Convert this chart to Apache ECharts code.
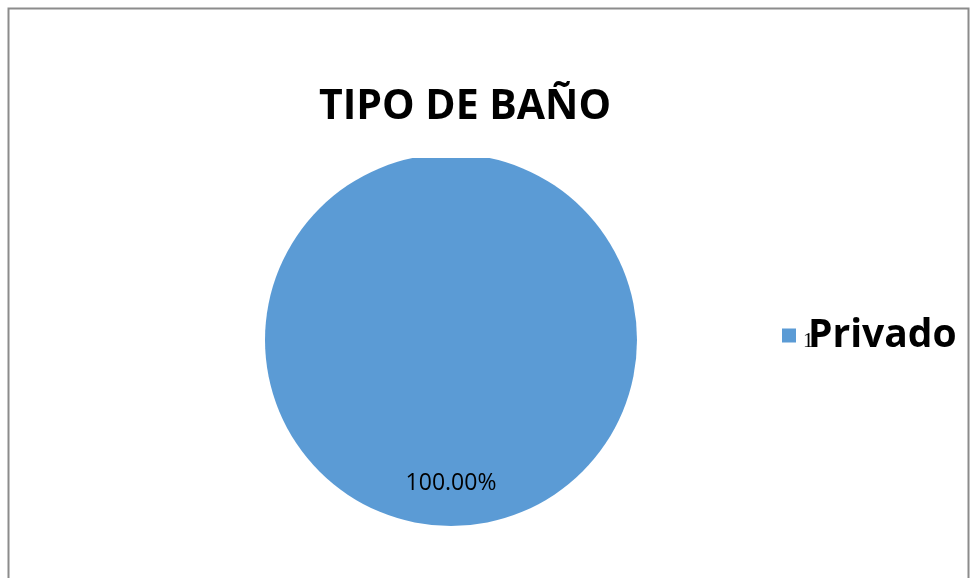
<!DOCTYPE html>
<html>
<head>
<meta charset="utf-8">
<style>
  html, body { margin: 0; padding: 0; background: #fff; }
  #chart { width: 977px; height: 578px; }
</style>
<script src="https://cdn.jsdelivr.net/npm/echarts@6/dist/echarts.min.js"></script>
</head>
<body>
<div id="chart"></div>
<script>
  // 数据
  var categories = ['Privado'];
  var values = [1];
  var percentLabels = ['100.00%'];

  var chart = echarts.init(document.getElementById('chart'));

  var pieData = categories.map(function (name, i) {
    return { name: name, value: values[i], pct: percentLabels[i] };
  });

  var option = {
    animation: false,
    color: ['#5b9bd5'],
    title: {
      text: 'TIPO DE BAÑO',
      left: 460,
      top: 82,
      textAlign: 'center',
      textStyle: {
        fontFamily: 'Open Sans',
        fontWeight: 'bold',
        fontSize: 41,
        color: '#000'
      }
    },
    legend: {
      orient: 'vertical',
      left: 777,
      top: 311,
      icon: 'rect',
      itemWidth: 14,
      itemHeight: 14,
      itemGap: 10,
      selectedMode: false,
      data: categories,
      formatter: function (name) {
        var idx = categories.indexOf(name);
        return '{n|' + values[idx] + '}{b|' + name + '}';
      },
      textStyle: {
        rich: {
          n: { fontFamily: 'Liberation Serif', fontSize: 21, color: '#000', width: 5, padding: [12, 0, 0, 2] },
          b: { fontFamily: 'Open Sans', fontWeight: 'bold', fontSize: 39, color: '#000' }
        }
      }
    },
    graphic: [{
      type: 'polyline',
      silent: true,
      shape: { points: [[8.5, 578], [8.5, 8.5], [968.5, 8.5], [968.5, 578]] },
      style: { stroke: '#8c8c8c', lineWidth: 2, fill: null }
    }, {
      // 顶部被裁切的部分
      type: 'rect',
      silent: true,
      z: 100,
      shape: { x: 380, y: 140, width: 140, height: 18 },
      style: { fill: '#fff' }
    }],
    series: [{
      type: 'pie',
      center: [451, 340],
      radius: 186,
      startAngle: 90,
      data: pieData,
      label: {
        show: true,
        position: 'inside',
        offset: [0, 47],
        formatter: function (p) { return p.data.pct; },
        fontFamily: 'Open Sans',
        fontSize: 23,
        color: '#000'
      },
      labelLine: { show: false },
      emphasis: { disabled: true }
    }]
  };

  chart.setOption(option);
</script>
</body>
</html>
